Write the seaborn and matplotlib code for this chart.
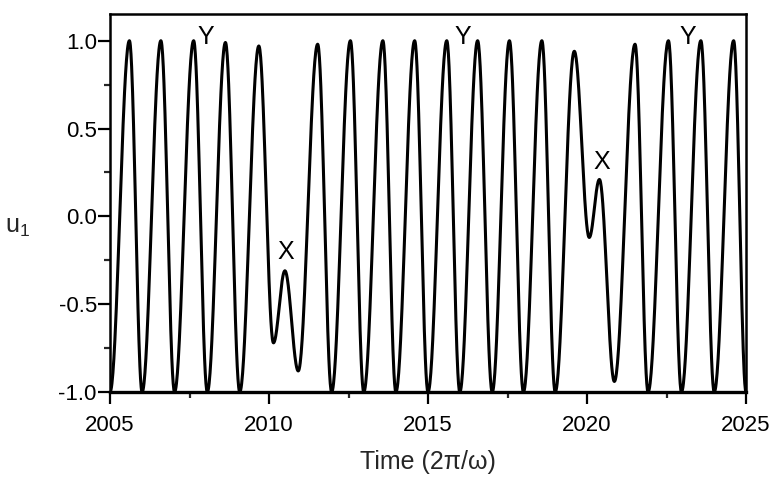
import numpy as np
import pandas as pd
import matplotlib
matplotlib.use('Agg')
import matplotlib.pyplot as plt
import seaborn as sns
from matplotlib.ticker import MultipleLocator

# extrema of u_1 (time, value), in order
ext_time = [2005.00, 2005.61, 2006.01, 2006.60, 2007.03, 2007.63, 2008.06, 2008.63,
            2009.08, 2009.68, 2010.14, 2010.50, 2010.92, 2011.53, 2011.97, 2012.56,
            2012.98, 2013.58, 2013.99, 2014.58, 2015.00, 2015.59, 2016.00, 2016.56,
            2017.02, 2017.56, 2018.00, 2018.58, 2019.00, 2019.60, 2020.07, 2020.39,
            2020.86, 2021.51, 2021.92, 2022.56, 2022.97, 2023.58, 2024.00, 2024.61,
            2025.00]
ext_value = [-1.00, 1.00, -1.00, 1.00, -1.00, 1.00, -1.00, 0.99,
             -1.00, 0.97, -0.72, -0.31, -0.88, 0.98, -1.00, 1.00,
             -1.00, 1.00, -1.00, 1.00, -1.00, 1.00, -1.00, 1.00,
             -1.00, 1.00, -1.00, 1.00, -1.00, 0.94, -0.12, 0.21,
             -0.94, 0.98, -1.00, 1.00, -1.00, 1.00, -1.00, 1.00,
             -1.00]

# point labels
lab_text = ['Y', 'Y', 'Y', 'X', 'X']
lab_time = [2008.02, 2016.09, 2023.17, 2010.53, 2020.46]
lab_value = [1.02, 1.02, 1.02, -0.205, 0.307]

# smooth the curve between the read extrema (half-cosine shape)
tt, uu = [], []
for i in range(len(ext_time) - 1):
    s = np.linspace(0, 1, 40, endpoint=False)
    t0, t1 = ext_time[i], ext_time[i + 1]
    v0, v1 = ext_value[i], ext_value[i + 1]
    tt.extend(t0 + (t1 - t0) * s)
    uu.extend(v0 + (v1 - v0) * (1 - np.cos(np.pi * s)) / 2)
tt.append(ext_time[-1])
uu.append(ext_value[-1])
df = pd.DataFrame({'time': tt, 'u1': uu})

sns.set_style('ticks')
plt.rcParams['font.family'] = ['Liberation Sans', 'DejaVu Sans']
plt.rcParams['mathtext.default'] = 'regular'

fig = plt.figure(figsize=(7.73, 4.8), dpi=100)
ax = fig.add_axes([0.1423, 0.1833, 0.8228, 0.7875])

sns.lineplot(data=df, x='time', y='u1', color='black', linewidth=2.2,
             sort=False, estimator=None, ax=ax)

for txt, t, v in zip(lab_text, lab_time, lab_value):
    ax.text(t, v, txt, fontsize=18, ha='center', va='center', color='black')

ax.set_xlim(2005, 2025)
ax.set_ylim(-1.0, 1.152)
ax.xaxis.set_major_locator(MultipleLocator(5))
ax.xaxis.set_minor_locator(MultipleLocator(2.5))
ax.yaxis.set_major_locator(MultipleLocator(0.5))
ax.yaxis.set_minor_locator(MultipleLocator(0.25))
ax.yaxis.set_major_formatter(matplotlib.ticker.FormatStrFormatter('%.1f'))

ax.tick_params(which='major', direction='out', length=8.5, width=1.6,
               labelsize=16, colors='black')
ax.tick_params(which='minor', direction='out', length=4.5, width=1.6)
ax.tick_params(axis='x', which='major', pad=8)
ax.tick_params(axis='y', which='major', pad=1)

for side in ['top', 'right', 'left']:
    ax.spines[side].set_linewidth(1.8)
    ax.spines[side].set_color('black')
ax.spines['bottom'].set_linewidth(2.4)
ax.spines['bottom'].set_color('black')

ax.set_xlabel('Time (2\u03c0/\u03c9)', fontsize=18, labelpad=10)
ax.set_ylabel('u$_1$', fontsize=18, rotation=0, ha='center', va='center')
ax.yaxis.set_label_coords(-0.145, 0.437)

fig.savefig('out.png', dpi=100, facecolor='white')
